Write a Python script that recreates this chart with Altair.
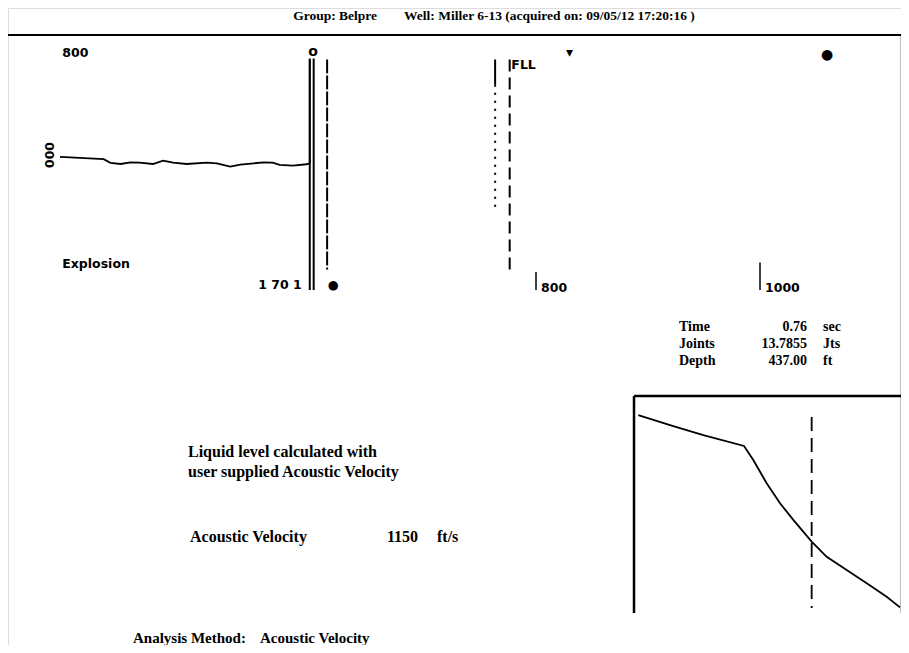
import altair as alt
import pandas as pd

# ---------------- data ----------------
NB = "\u00a0"
title_text = "Group: Belpre" + NB * 8 + "Well: Miller 6-13 (acquired on: 09/05/12 17:20:16 )"

# acoustic trace (panel time units, amplitude)
trace_t = [375, 384, 414, 420, 429, 438, 446, 458, 467, 476, 488, 506, 515, 527, 536, 548, 557, 565, 571, 583, 595, 598, 598]
trace_amp = [11, 10.5, 9, 6, 5, 6.4, 6.1, 5, 7.8, 6.1, 5, 6.1, 5.6, 2.8, 4.4, 5.6, 6.4, 6.1, 4.2, 3.6, 4.8, 5.6, 92]

# vertical marker lines on the trace panel
vline_t = [598.0, 601.5, 613.5, 763.5, 763.5, 776.5]
vline_top = [93, 93, 92, 92, 71, 92]
vline_bot = [-100, -100, -83, 71, -33, -83]
vline_style = ["solid", "solid", "dense", "solid", "dotted", "dashed"]

# axis ticks of the trace panel
tick_t = [800, 1000]
tick_top = [-85, -77]
tick_bot = [-100, -100]
tick_labels = ["800", "1000"]

# glyph markers at the top of the trace panel
glyph_t = [601, 830, 1060]
glyph_amp = [98, 97.5, 95.5]
glyph_text = ["o", "▾", "●"]

# panel labels
label_t = [377, 377, 778, 552, 614]
label_amp = [97.5, -78, 87.5, -96, -96]
label_text = ["800", "Explosion", "FLL", "1 70 1", "●"]
ylabel_t = [366]
ylabel_amp = [12.5]
ylabel_text = ["000"]

# info block
info_labels = ["Time", "Joints", "Depth"]
info_values = ["0.76", "13.7855", "437.00"]
info_units = ["sec", "Jts", "ft"]

# inset: depth (ft) vs signal
inset_depth = [5.7, 84.6, 167.4, 268.7, 291.8, 325.1, 358.2, 391.3, 437, 474.4, 524.1, 573.9, 623.6, 656.7]
inset_amp = [91.2, 86.6, 82, 77, 70.5, 59.8, 50.6, 42.9, 32.9, 25.9, 19.8, 13.7, 7.5, 2.6]
liquid_depth = [437]
liquid_top = [90.3]
liquid_bot = [2.3]

note_lines = ["Liquid level calculated with", "user supplied Acoustic Velocity"]
velocity_label = "Acoustic Velocity"
velocity_value = "1150"
velocity_unit = "ft/s"
method_label = "Analysis Method:"
method_value = "Acoustic Velocity"

# ---------------- layout helpers ----------------
M = 8  # page margin; plot origin sits at page (8, 8)
def P(v):
    return v - M

TX = alt.Scale(domain=[350, 1100], range=[P(32), P(872)], nice=False, zero=False)
TY = alt.Scale(domain=[-100, 100], range=[P(290), P(50)], nice=False, zero=False)
IX = alt.Scale(domain=[0, 660], range=[P(636), P(901.3)], nice=False, zero=False)
IY = alt.Scale(domain=[0, 100], range=[P(613), P(396)], nice=False, zero=False)

SERIF = "Liberation Serif"
SANS = "DejaVu Sans"

layers = []

# frames
frame = pd.DataFrame({"k": [0]})
def hline(x1, x2, y, w=2):
    return alt.Chart(frame).mark_rule(color="black", strokeWidth=w).encode(
        x=alt.value(P(x1)), x2=alt.value(P(x2)), y=alt.value(P(y)))
def vline(x, y1, y2, w=2):
    return alt.Chart(frame).mark_rule(color="black", strokeWidth=w).encode(
        x=alt.value(P(x)), y=alt.value(P(y1)), y2=alt.value(P(y2)))

layers += [hline(8, 903, 35, 2), vline(902, 35, 613, 2.5),
           hline(634, 902, 396, 2.5), vline(634, 396, 613, 2.5)]

# title
layers.append(alt.Chart(frame).mark_text(font=SERIF, fontSize=13.5, fontWeight="bold", align="center", baseline="middle").encode(
    x=alt.value(P(494)), y=alt.value(P(16)), text=alt.value(title_text)))

# trace
tr = pd.DataFrame({"t": trace_t, "amp": trace_amp, "o": list(range(len(trace_t)))})
layers.append(alt.Chart(tr).mark_line(color="black", strokeWidth=1.8).encode(
    x=alt.X("t:Q", scale=TX, axis=None), y=alt.Y("amp:Q", scale=TY, axis=None), order="o:Q"))

vl = pd.DataFrame({"t": vline_t, "top": vline_top, "bot": vline_bot, "style": vline_style})
layers.append(alt.Chart(vl).mark_rule(color="black", strokeWidth=2).encode(
    x=alt.X("t:Q", scale=TX, axis=None), y=alt.Y("top:Q", scale=TY, axis=None), y2="bot:Q",
    strokeDash=alt.StrokeDash("style:N", scale=alt.Scale(domain=["solid", "dense", "dotted", "dashed"],
                                                          range=[[1, 0], [14, 2], [2, 6], [12, 6]]), legend=None)))

tk = pd.DataFrame({"t": tick_t, "top": tick_top, "bot": tick_bot, "lab": tick_labels})
layers.append(alt.Chart(tk).mark_rule(color="black", strokeWidth=1.5).encode(
    x=alt.X("t:Q", scale=TX, axis=None), y=alt.Y("top:Q", scale=TY, axis=None), y2="bot:Q"))
layers.append(alt.Chart(tk).mark_text(font=SANS, fontSize=12.5, fontWeight="bold", align="left", baseline="middle", dx=5, dy=-2).encode(
    x=alt.X("t:Q", scale=TX, axis=None), y=alt.Y("bot:Q", scale=TY, axis=None), text="lab:N"))

gl = pd.DataFrame({"t": glyph_t, "amp": glyph_amp, "g": glyph_text})
layers.append(alt.Chart(gl).mark_text(font=SANS, fontSize=14, fontWeight="bold", align="center", baseline="middle").encode(
    x=alt.X("t:Q", scale=TX, axis=None), y=alt.Y("amp:Q", scale=TY, axis=None), text="g:N"))

lb = pd.DataFrame({"t": label_t, "amp": label_amp, "s": label_text})
layers.append(alt.Chart(lb).mark_text(font=SANS, fontSize=12.5, fontWeight="bold", align="left", baseline="middle").encode(
    x=alt.X("t:Q", scale=TX, axis=None), y=alt.Y("amp:Q", scale=TY, axis=None), text="s:N"))

yl = pd.DataFrame({"t": ylabel_t, "amp": ylabel_amp, "s": ylabel_text})
layers.append(alt.Chart(yl).mark_text(font=SANS, fontSize=12.5, fontWeight="bold", align="center", baseline="middle", angle=270).encode(
    x=alt.X("t:Q", scale=TX, axis=None), y=alt.Y("amp:Q", scale=TY, axis=None), text="s:N"))

# info block
info = pd.DataFrame({"i": [0, 1, 2], "lab": info_labels, "val": info_values, "unit": info_units})
IR = alt.Scale(domain=[0, 2], range=[P(327), P(361)], nice=False, zero=False)
for fld, xx, al in [("lab", 679, "left"), ("val", 807, "right"), ("unit", 823, "left")]:
    layers.append(alt.Chart(info).mark_text(font=SERIF, fontSize=14, fontWeight="bold", align=al, baseline="middle").encode(
        x=alt.value(P(xx)), y=alt.Y("i:Q", scale=IR, axis=None), text=f"{fld}:N"))

# inset curve
ins = pd.DataFrame({"d": inset_depth, "v": inset_amp})
layers.append(alt.Chart(ins).mark_line(color="black", strokeWidth=1.8).encode(
    x=alt.X("d:Q", scale=IX, axis=None), y=alt.Y("v:Q", scale=IY, axis=None)))
lq = pd.DataFrame({"d": liquid_depth, "top": liquid_top, "bot": liquid_bot})
layers.append(alt.Chart(lq).mark_rule(color="black", strokeWidth=1.8, strokeDash=[14, 7]).encode(
    x=alt.X("d:Q", scale=IX, axis=None), y=alt.Y("top:Q", scale=IY, axis=None), y2="bot:Q"))

# notes
def note(text, x, y, align="left", size=16):
    return alt.Chart(frame).mark_text(font=SERIF, fontSize=size, fontWeight="bold", align=align, baseline="middle").encode(
        x=alt.value(P(x)), y=alt.value(P(y)), text=alt.value(text))

layers += [note(note_lines[0], 188, 452), note(note_lines[1], 188, 472),
           note(velocity_label, 190, 537), note(velocity_value, 387, 537), note(velocity_unit, 437, 537),
           note(method_label, 133, 638, size=15), note(method_value, 260, 638, size=15)]

chart = alt.layer(*layers).resolve_scale(x="independent", y="independent").properties(
    width=893, height=637, autosize=alt.AutoSizeParams(type="none"), padding=0
).configure_view(stroke=None).configure(background="white")

chart.save("out.html", embed_options={"renderer": "svg", "actions": False})
